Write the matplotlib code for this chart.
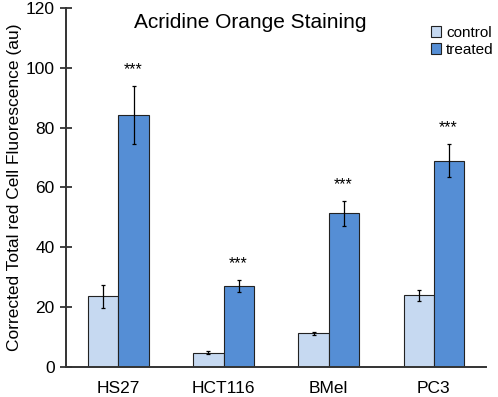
import numpy as np
import matplotlib
matplotlib.use('Agg')
import matplotlib.pyplot as plt

plt.rcParams['font.family'] = ['Liberation Sans', 'DejaVu Sans']

cells = ['HS27', 'HCT116', 'BMel', 'PC3']
control = [23.6, 4.8, 11.2, 24.0]
control_err = [3.8, 0.6, 0.6, 1.8]
treated = [84.2, 27.0, 51.3, 69.0]
treated_err = [9.7, 2.0, 4.3, 5.5]
stars = ['***', '***', '***', '***']

fig = plt.figure(figsize=(4.98, 3.97), dpi=100)
ax = fig.add_axes([0.1325, 0.0756, 0.8435, 0.9044])

x = np.arange(len(cells))
w = 0.286
ax.bar(x - w / 2, control, w, yerr=control_err, color='#C6D9F1', edgecolor='#222222',
       linewidth=0.8, capsize=1.5, error_kw={'elinewidth': 0.9, 'capthick': 0.9}, label='control')
ax.bar(x + w / 2, treated, w, yerr=treated_err, color='#558ED5', edgecolor='#222222',
       linewidth=0.8, capsize=1.5, error_kw={'elinewidth': 0.9, 'capthick': 0.9}, label='treated')

for xi, v, e, s in zip(x, treated, treated_err, stars):
    ax.text(xi + w / 2, v + e + 3, s, ha='center', va='bottom', fontsize=11.5)

ax.set_xlim(-0.5, 3.5)
ax.set_ylim(0, 120)
ax.set_yticks(range(0, 121, 20))
ax.set_xticks(x)
ax.set_xticklabels(cells)
ax.tick_params(axis='y', direction='inout', length=9, width=1.3, labelsize=12.5, color='#333333')
ax.tick_params(axis='x', length=0, labelsize=12.5, pad=10)
for side in ['top', 'right']:
    ax.spines[side].set_visible(False)
for side in ['left', 'bottom']:
    ax.spines[side].set_linewidth(1.4)
    ax.spines[side].set_color('#333333')

ax.set_ylabel('Corrected Total red Cell Fluorescence (au)', fontsize=12.5, labelpad=3)
ax.text(0.438, 0.96, 'Acridine Orange Staining', transform=ax.transAxes, ha='center',
        va='center', fontsize=15)
ax.legend(loc='upper right', bbox_to_anchor=(1.04, 0.975), frameon=False, fontsize=11,
          handlelength=0.7, handleheight=0.7, handletextpad=0.3, labelspacing=0.2,
          borderaxespad=0.2)

fig.savefig('out.png', dpi=100)
